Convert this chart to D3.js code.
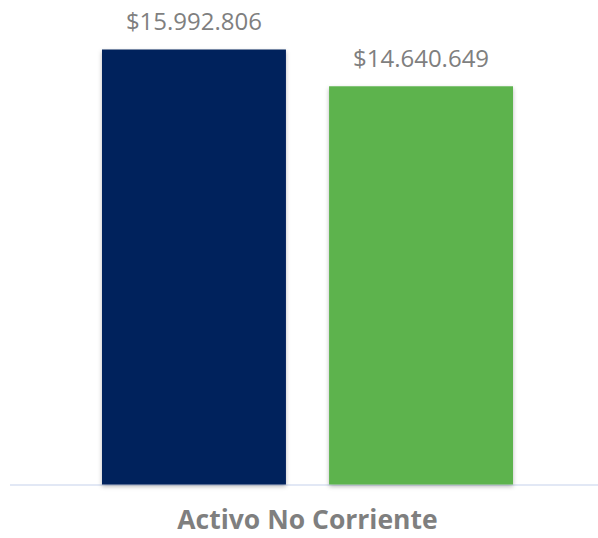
<!DOCTYPE html>
<html>
<head>
<meta charset="utf-8">
<script src="https://cdn.jsdelivr.net/npm/d3@7"></script>
<style>
  html, body { margin: 0; padding: 0; background: #fff; }
  svg { display: block; }
  .valor { font-family: "Open Sans", sans-serif; font-size: 24px; fill: #7f7f7f; }
  .categoria { font-family: "Open Sans", sans-serif; font-size: 26.5px; font-weight: bold; fill: #7f7f7f; }
</style>
</head>
<body>
<svg id="chart" width="598" height="538"></svg>
<script>
var categoria = "Activo No Corriente";
var series = ["Periodo 1", "Periodo 2"];
var valores = [15992806, 14640649];
var colores = ["#00205c", "#5db34e"];

var svg = d3.select("#chart"),
    width = +svg.attr("width"),
    height = +svg.attr("height"),
    baseY = 484.5;

var loc = d3.formatLocale({ decimal: ",", thousands: ".", grouping: [3], currency: ["$", ""] });
var fmt = loc.format("$,.0f");

// sombra de las barras
var defs = svg.append("defs");
defs.append("filter")
  .attr("id", "sombra")
  .attr("x", "-10%").attr("y", "-10%")
  .attr("width", "120%").attr("height", "120%")
  .append("feDropShadow")
  .attr("dx", 0).attr("dy", 2)
  .attr("stdDeviation", 2)
  .attr("flood-color", "#000")
  .attr("flood-opacity", 0.28);

var x = d3.scaleBand()
    .domain(series)
    .range([102, 513])
    .paddingInner(0.19)
    .paddingOuter(0);

var y = d3.scaleLinear()
    .domain([0, 18000000])
    .range([baseY, baseY - 489.6]);

// linea del eje
svg.append("line")
  .attr("x1", 10).attr("x2", width)
  .attr("y1", baseY + 0.5).attr("y2", baseY + 0.5)
  .attr("stroke", "#d9e1f2")
  .attr("stroke-width", 1.5);

var datos = series.map(function(s, i){ return { serie: s, valor: valores[i], color: colores[i] }; });

svg.selectAll(".barra")
  .data(datos)
  .enter().append("rect")
  .attr("class", "barra")
  .attr("x", function(d){ return x(d.serie); })
  .attr("y", function(d){ return y(d.valor); })
  .attr("width", x.bandwidth())
  .attr("height", function(d){ return baseY - y(d.valor); })
  .attr("fill", function(d){ return d.color; })
  .attr("filter", "url(#sombra)");

svg.selectAll(".valor")
  .data(datos)
  .enter().append("text")
  .attr("class", "valor")
  .attr("x", function(d){ return x(d.serie) + x.bandwidth() / 2; })
  .attr("y", function(d){ return y(d.valor) - 19; })
  .attr("text-anchor", "middle")
  .text(function(d){ return fmt(d.valor); });

svg.append("text")
  .attr("class", "categoria")
  .attr("x", (x.range()[0] + x.range()[1]) / 2)
  .attr("y", 529)
  .attr("text-anchor", "middle")
  .text(categoria);
</script>
</body>
</html>
